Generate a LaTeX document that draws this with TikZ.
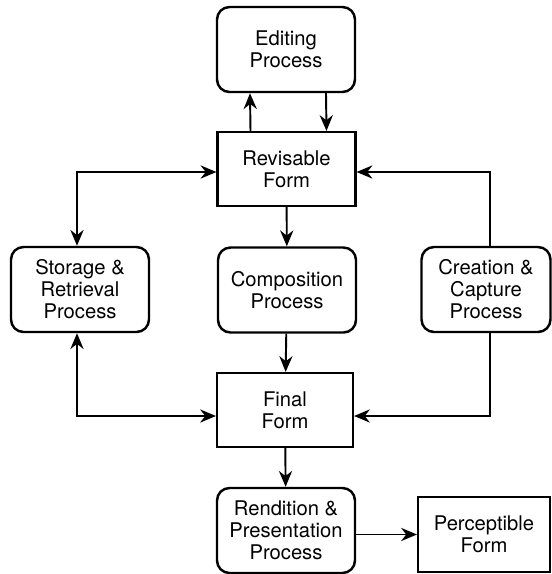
\documentclass[tikz,border=0pt]{standalone}
\usepackage{fontspec}
\setmainfont{TeX Gyre Heros}
\usetikzlibrary{arrows.meta}

\begin{document}
\begin{tikzpicture}[
  >={Stealth[length=9pt,width=7.5pt]},
  every node/.style={font=\fontsize{11.5}{12.5}\selectfont, align=center},
  process/.style={rectangle, rounded corners=0.25cm, draw=black, line width=1.4pt, minimum width=2.76cm, minimum height=1.7cm},
  form/.style={rectangle, draw=black, line width=1.2pt, minimum width=2.76cm, minimum height=1.48cm},
  line width=1.1pt]
\useasboundingbox (0,0) rectangle (11.04,-11.48);

\node[process] (edit) at (5.72,-0.99) {Editing\\Process};
\node[form] (rev) at (5.73,-3.38) {Revisable\\Form};
\node[process] (stor) at (1.6,-5.79) {Storage \&\\Retrieval\\Process};
\node[process] (comp) at (5.74,-5.8) {Composition\\Process};
\node[process, minimum width=2.58cm] (crea) at (9.72,-5.79) {Creation \&\\Capture\\Process};
\node[form, minimum width=2.72cm] (fin) at (5.7,-8.2) {Final\\Form};
\node[process] (rend) at (5.72,-10.61) {Rendition \&\\Presentation\\Process};
\node[form, minimum width=2.64cm, minimum height=1.5cm] (perc) at (9.68,-10.69) {Perceptible\\Form};

% editing loop
\draw[->] ([xshift=-0.72cm]rev.north) -- ([xshift=-0.72cm]edit.south);
\draw[->] ([xshift=0.8cm]edit.south) -- ([xshift=0.8cm]rev.north);

% main column
\draw[->] (rev) -- (comp);
\draw[->] (comp) -- (fin);
\draw[->] (fin) -- (rend);
\draw[->] (rend.east |- perc) -- (perc.west);

% storage and retrieval
\draw[<->] ([xshift=-0.06cm]stor.north) |- ([yshift=-0.06cm]rev.west);
\draw[<->] ([xshift=-0.06cm]stor.south) |- ([yshift=-0.12cm]fin.west);

% creation and capture
\draw[->] ([xshift=0.08cm]crea.north) |- ([yshift=-0.06cm]rev.east);
\draw[->] ([xshift=0.08cm]crea.south) |- ([yshift=-0.12cm]fin.east);
\end{tikzpicture}
\end{document}
